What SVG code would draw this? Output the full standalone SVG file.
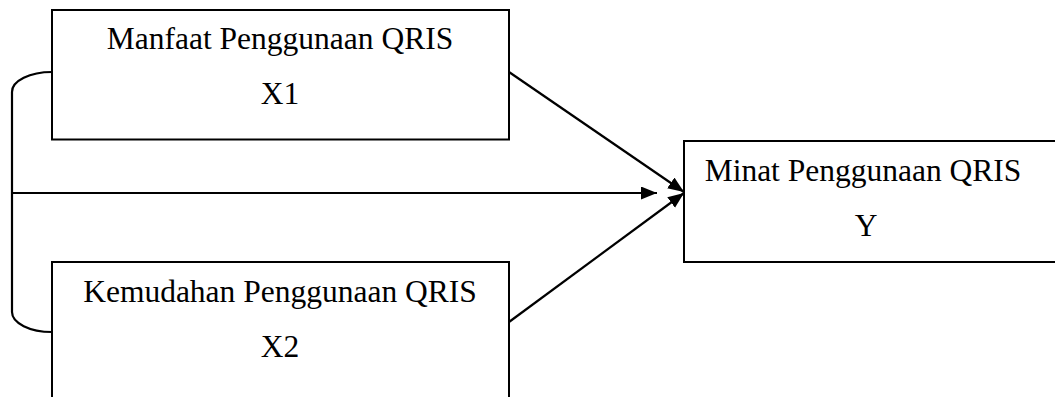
<svg xmlns="http://www.w3.org/2000/svg" width="1055" height="397" viewBox="0 0 1055 397">
  <style>
    .box { fill: #ffffff; stroke: #000000; stroke-width: 2; }
    .lbl { font-family: "Liberation Serif", "Times New Roman", serif; font-size: 31.5px; fill: #000000; text-anchor: middle; }
    .conn { fill: none; stroke: #000000; stroke-width: 2.2; }
  </style>
  <defs>
    <marker id="arr" markerUnits="userSpaceOnUse" markerWidth="18" markerHeight="14" refX="16" refY="6.5" orient="auto">
      <path d="M0,0 L16,6.5 L0,13 z" fill="#000000"/>
    </marker>
  </defs>
  <rect x="0" y="0" width="1055" height="397" fill="#ffffff"/>

  <g id="connectors">
    <path class="conn" d="M52,72 A40,20 0 0 0 12,92 L12,312 A40,20 0 0 0 52,332"/>
    <line class="conn" x1="12" y1="193" x2="657" y2="193" marker-end="url(#arr)"/>
    <line class="conn" x1="509" y1="72" x2="684" y2="192" marker-end="url(#arr)"/>
    <line class="conn" x1="509" y1="322" x2="684" y2="193" marker-end="url(#arr)"/>
  </g>

  <g id="node-x1">
    <rect class="box" x="52" y="10" width="457" height="129.5"/>
    <text class="lbl" x="280" y="49">Manfaat Penggunaan QRIS</text>
    <text class="lbl" x="280" y="104">X1</text>
  </g>

  <g id="node-x2">
    <rect class="box" x="52" y="262" width="457" height="150"/>
    <text class="lbl" x="280" y="302">Kemudahan Penggunaan QRIS</text>
    <text class="lbl" x="280" y="357">X2</text>
  </g>

  <g id="node-y">
    <rect class="box" x="684" y="141" width="400" height="121"/>
    <text class="lbl" x="863" y="181">Minat Penggunaan QRIS</text>
    <text class="lbl" x="866" y="235.5">Y</text>
  </g>
</svg>
